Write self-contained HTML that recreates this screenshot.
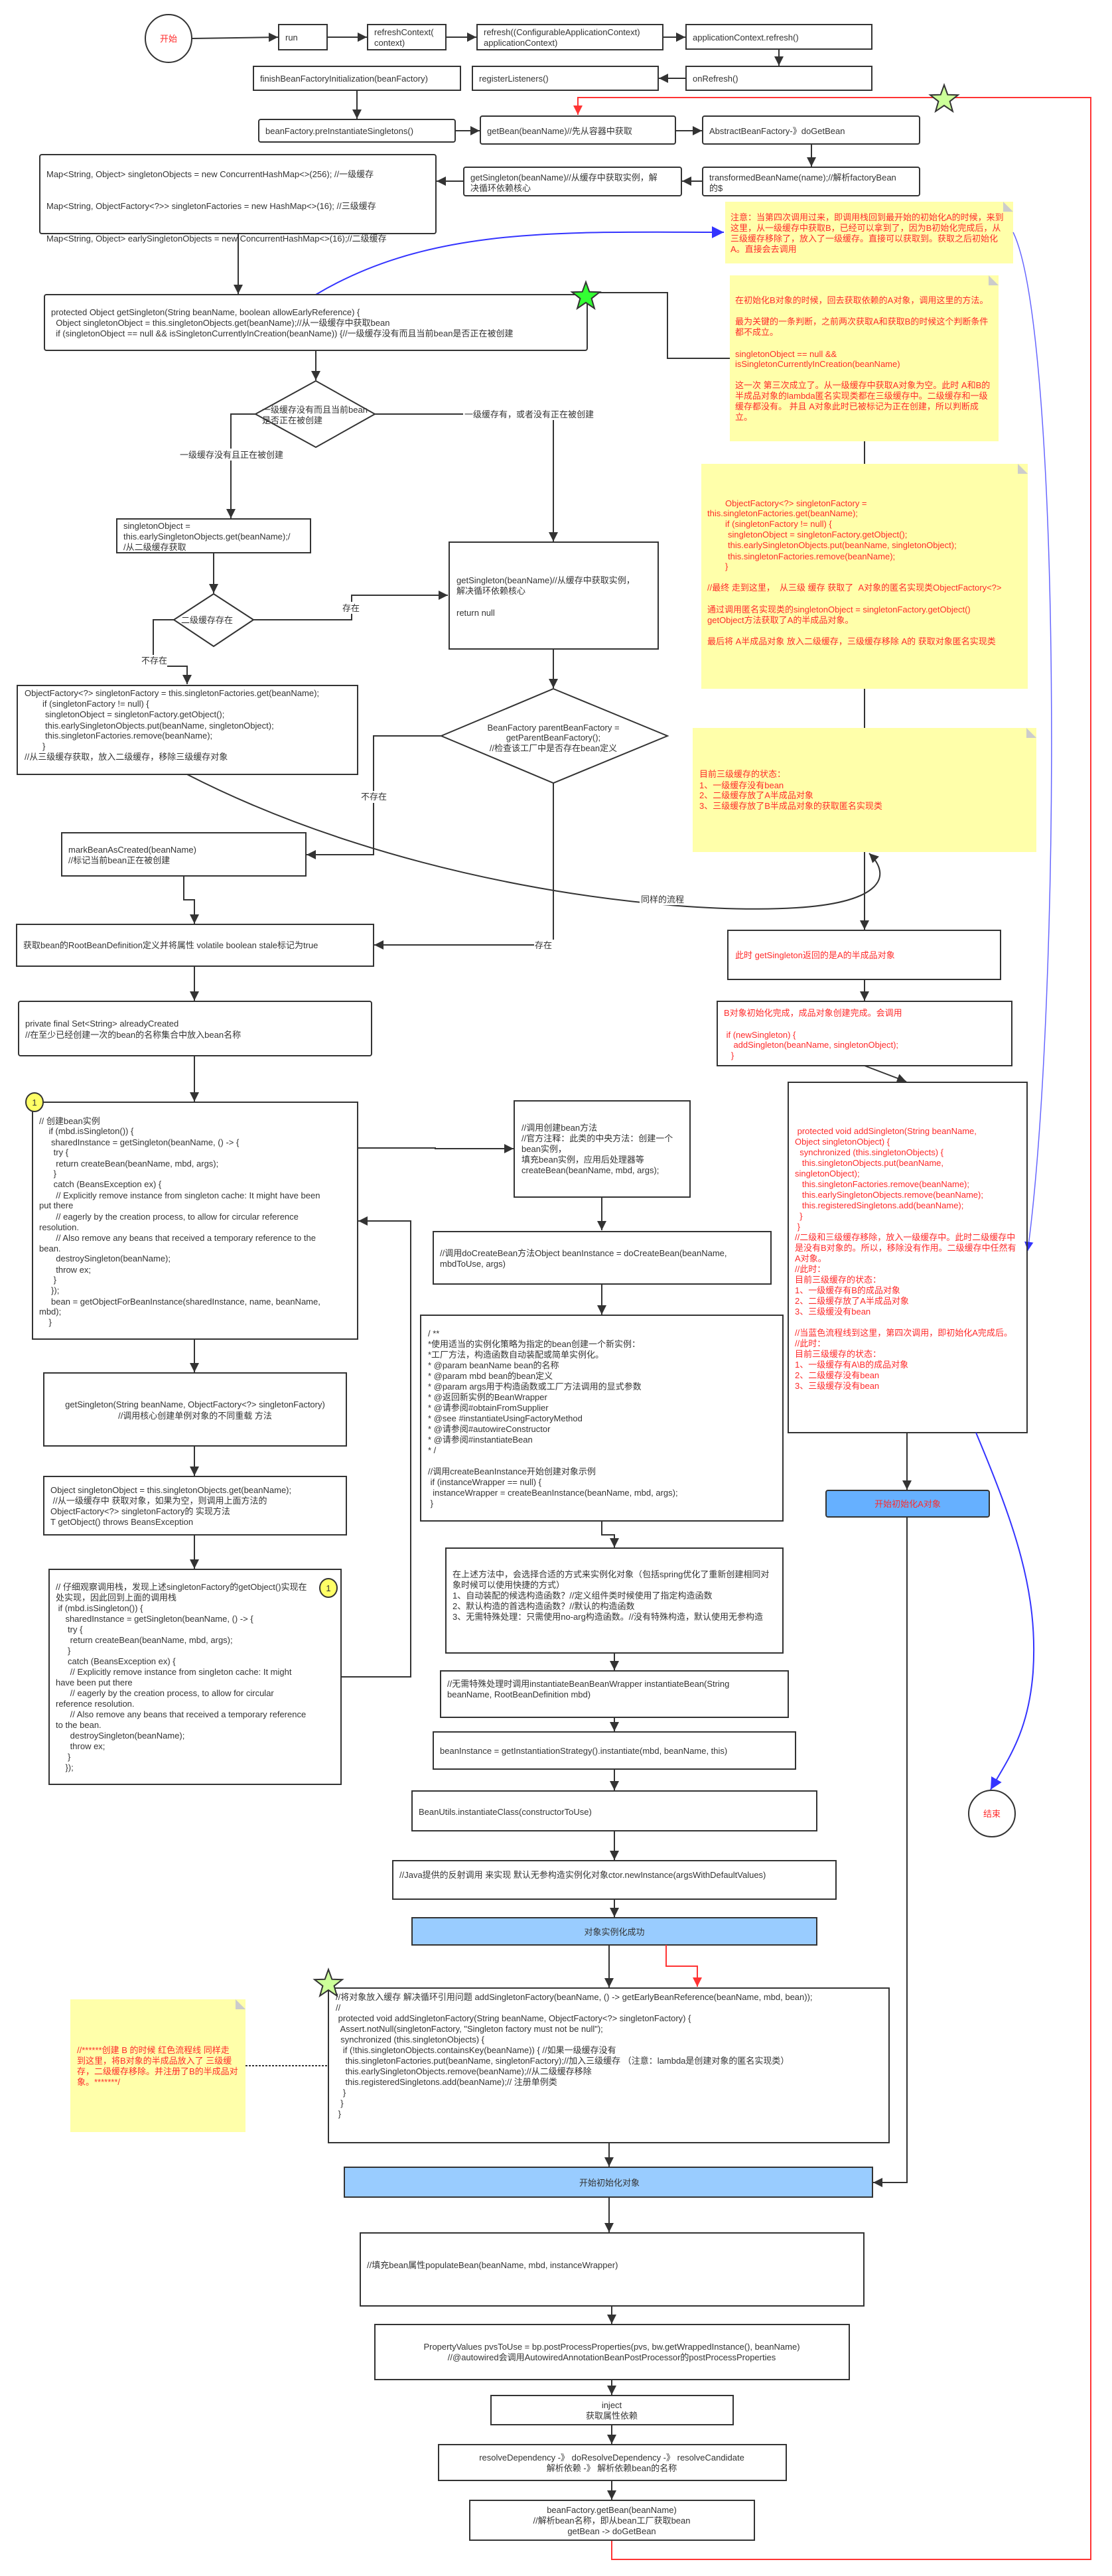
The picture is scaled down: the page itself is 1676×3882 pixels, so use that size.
<!DOCTYPE html>
<html><head><meta charset="utf-8"><style>
html,body{margin:0;padding:0;background:#fff;}
svg{display:block;}
text{font-family:"Liberation Sans","Noto Sans CJK SC",sans-serif;font-size:13px;fill:#333;white-space:pre;}
.r{fill:#ff2a2a;}
.b{fill:none;stroke:#333;stroke-width:2;}
.ln{fill:none;stroke:#333;stroke-width:2;}
.note{fill:#ffffaa;stroke:none;}
</style></head><body>
<svg width="1676" height="3882" viewBox="0 0 1676 3882" xmlns="http://www.w3.org/2000/svg" xml:space="preserve">
<defs>
<marker id="a" viewBox="0 0 10 10" refX="10" refY="5" markerWidth="7" markerHeight="7" orient="auto"><path d="M0,0L10,5L0,10z" fill="#333"/></marker>
<marker id="ar" viewBox="0 0 10 10" refX="10" refY="5" markerWidth="7" markerHeight="7" orient="auto"><path d="M0,0L10,5L0,10z" fill="#ff3333"/></marker>
<marker id="ab" viewBox="0 0 10 10" refX="10" refY="5" markerWidth="9" markerHeight="9" orient="auto"><path d="M0,0L10,5L0,10z" fill="#3333ff"/></marker>
<polygon id="star" points="0,-22 5.3,-7.3 20.9,-6.8 8.6,2.8 12.9,17.8 0,9 -12.9,17.8 -8.6,2.8 -20.9,-6.8 -5.3,-7.3" stroke="#333" stroke-width="2"/>
</defs>
<rect width="1676" height="3882" fill="#fff"/>

<!-- red loop line -->
<polyline points="922,3828 922,3857 1644,3857 1644,147 871,147 871,173" fill="none" stroke="#ff3333" stroke-width="2" marker-end="url(#ar)"/>

<!-- start -->
<ellipse cx="254" cy="58" rx="35" ry="36" class="b"/>
<text x="254" y="63" class="r" text-anchor="middle">开始</text>
<line x1="289" y1="58" x2="419" y2="56" class="ln" marker-end="url(#a)"/>
<rect x="420" y="37" width="73" height="38" class="b"/><text x="430" y="61">run</text>
<line x1="493" y1="56" x2="553" y2="56" class="ln" marker-end="url(#a)"/>
<rect x="554" y="37" width="118" height="38" class="b"/><text x="564" y="53">refreshContext(</text><text x="564" y="69">context)</text>
<line x1="672" y1="56" x2="718" y2="56" class="ln" marker-end="url(#a)"/>
<rect x="719" y="37" width="280" height="38" class="b"/><text x="729" y="53">refresh((ConfigurableApplicationContext)</text><text x="729" y="69">applicationContext)</text>
<line x1="999" y1="56" x2="1033" y2="56" class="ln" marker-end="url(#a)"/>
<rect x="1034" y="37" width="280" height="37" class="b"/><text x="1044" y="61">applicationContext.refresh()</text>
<line x1="1174" y1="74" x2="1174" y2="99" class="ln" marker-end="url(#a)"/>
<rect x="1034" y="100" width="280" height="36" class="b"/><text x="1044" y="123">onRefresh()</text>
<line x1="1034" y1="118" x2="993" y2="118" class="ln" marker-end="url(#a)"/>
<rect x="712" y="100" width="280" height="36" class="b"/><text x="722" y="123">registerListeners()</text>
<rect x="382" y="100" width="312" height="36" class="b"/><text x="392" y="123">finishBeanFactoryInitialization(beanFactory)</text>
<line x1="538" y1="136" x2="538" y2="179" class="ln" marker-end="url(#a)"/>
<rect x="390" y="180" width="296" height="34" rx="3" class="b"/><text x="400" y="202">beanFactory.preInstantiateSingletons()</text>
<line x1="686" y1="197" x2="723" y2="197" class="ln" marker-end="url(#a)"/>
<rect x="724" y="175" width="294" height="42" rx="3" class="b"/><text x="734" y="202">getBean(beanName)//先从容器中获取</text>
<line x1="1018" y1="197" x2="1058" y2="197" class="ln" marker-end="url(#a)"/>
<rect x="1059" y="175" width="327" height="42" rx="3" class="b"/><text x="1069" y="202">AbstractBeanFactory-》doGetBean</text>
<line x1="1223" y1="217" x2="1223" y2="251" class="ln" marker-end="url(#a)"/>
<rect x="1059" y="252" width="327" height="43" rx="3" class="b"/><text x="1069" y="272">transformedBeanName(name);//解析factoryBean</text><text x="1069" y="288">的$</text>
<line x1="1059" y1="273" x2="1028" y2="273" class="ln" marker-end="url(#a)"/>
<rect x="699" y="252" width="328" height="43" rx="3" class="b"/><text x="709" y="272">getSingleton(beanName)//从缓存中获取实例，解</text><text x="709" y="288">决循环依赖核心</text>
<line x1="699" y1="273" x2="658" y2="273" class="ln" marker-end="url(#a)"/>
<polygon transform="translate(1423,150) scale(1)" points="0,-22 5.3,-7.3 20.9,-6.8 8.6,2.8 12.9,17.8 0,9 -12.9,17.8 -8.6,2.8 -20.9,-6.8 -5.3,-7.3" fill="#ccff99" stroke="#333" stroke-width="2"/>

<!-- maps box -->
<rect x="60" y="233" width="597" height="119" rx="3" class="b"/>
<text x="70" y="267">Map&lt;String, Object&gt; singletonObjects = new ConcurrentHashMap&lt;&gt;(256); //一级缓存</text>
<text x="70" y="315">Map&lt;String, ObjectFactory&lt;?&gt;&gt; singletonFactories = new HashMap&lt;&gt;(16); //三级缓存</text>
<text x="70" y="364">Map&lt;String, Object&gt; earlySingletonObjects = new ConcurrentHashMap&lt;&gt;(16);//二级缓存</text>
<line x1="359" y1="352" x2="359" y2="443" class="ln" marker-end="url(#a)"/>

<!-- note1 -->
<rect x="1093" y="304" width="434" height="93" class="note"/>
<polygon points="1512,304 1527,319 1512,319" fill="#ccc"/>
<text class="r" x="1101"><tspan x="1101" y="332">注意：当第四次调用过来，即调用栈回到最开始的初始化A的时候，来到</tspan><tspan x="1101" y="348">这里，从一级缓存中获取B，已经可以拿到了，因为B初始化完成后，从</tspan><tspan x="1101" y="364">三级缓存移除了，放入了一级缓存。直接可以获取到。获取之后初始化</tspan><tspan x="1101" y="380">A。直接会去调用</tspan></text>
<path d="M476,444 C650,340 850,350 1091,350" fill="none" stroke="#3333ff" stroke-width="2" marker-end="url(#ab)"/>
<path d="M1527,350 C1600,500 1600,1500 1549,1885" fill="none" stroke="#6666ff" stroke-width="1.5" marker-end="url(#ab)"/>

<!-- big getSingleton -->
<rect x="67" y="444" width="818" height="84" rx="3" class="b"/>
<text x="77" y="475">protected Object getSingleton(String beanName, boolean allowEarlyReference) {</text>
<text x="77" y="491">  Object singletonObject = this.singletonObjects.get(beanName);//从一级缓存中获取bean</text>
<text x="77" y="507">  if (singletonObject == null &amp;&amp; isSingletonCurrentlyInCreation(beanName)) {//一级缓存没有而且当前bean是否正在被创建</text>
<polyline points="1100,540 1006,540 1006,441 885,441" class="ln"/>
<polygon transform="translate(883,447)" points="0,-22 5.3,-7.3 20.9,-6.8 8.6,2.8 12.9,17.8 0,9 -12.9,17.8 -8.6,2.8 -20.9,-6.8 -5.3,-7.3" fill="#33ff33" stroke="#333" stroke-width="2"/>

<!-- note2 -->
<rect x="1100" y="415" width="405" height="250" class="note"/>
<polygon points="1490,415 1505,430 1490,430" fill="#ccc"/>
<text class="r"><tspan x="1108" y="457">在初始化B对象的时候，回去获取依赖的A对象，调用这里的方法。</tspan><tspan x="1108" y="489">最为关键的一条判断，之前两次获取A和获取B的时候这个判断条件</tspan><tspan x="1108" y="505">都不成立。</tspan><tspan x="1108" y="538">singletonObject == null &amp;&amp;</tspan><tspan x="1108" y="553">isSingletonCurrentlyInCreation(beanName)</tspan><tspan x="1108" y="585">这一次 第三次成立了。从一级缓存中获取A对象为空。此时 A和B的</tspan><tspan x="1108" y="601">半成品对象的lambda匿名实现类都在三级缓存中。二级缓存和一级</tspan><tspan x="1108" y="617">缓存都没有。 并且 A对象此时已被标记为正在创建，所以判断成</tspan><tspan x="1108" y="633">立。</tspan></text>
<line x1="1303" y1="665" x2="1303" y2="699" class="ln"/>

<!-- diamond1 -->
<line x1="476" y1="528" x2="476" y2="573" class="ln" marker-end="url(#a)"/>
<polygon points="476,574 565,624 476,674 385,624" class="b" fill="#fff"/>
<text x="395" y="622">一级缓存没有而且当前bean</text><text x="395" y="638">是否正在被创建</text>
<polyline points="565,624 834,624 834,816" class="ln" marker-end="url(#a)"/>
<rect x="698" y="615" width="190" height="18" fill="#fff"/>
<text x="700" y="629">一级缓存有，或者没有正在被创建</text>
<polyline points="385,624 348,624 348,781" class="ln" marker-end="url(#a)"/>
<rect x="270" y="676" width="158" height="18" fill="#fff"/>
<text x="271" y="690">一级缓存没有且正在被创建</text>

<rect x="176" y="782" width="292" height="51" class="b"/>
<text x="186" y="797">singletonObject =</text><text x="186" y="813">this.earlySingletonObjects.get(beanName);/</text><text x="186" y="829">/从二级缓存获取</text>
<line x1="322" y1="833" x2="322" y2="894" class="ln" marker-end="url(#a)"/>
<polygon points="322,895 382,934 322,974 262,934" class="b" fill="#fff"/>
<text x="273" y="939">二级缓存存在</text>
<polyline points="382,934 530,934 530,897 675,897" class="ln" marker-end="url(#a)"/>
<rect x="515" y="907" width="30" height="18" fill="#fff"/><text x="516" y="921">存在</text>
<polyline points="262,934 231,934 231,1004 282,1004 282,1031" class="ln" marker-end="url(#a)"/>
<rect x="212" y="987" width="40" height="18" fill="#fff"/><text x="213" y="1000">不存在</text>

<rect x="26" y="1033" width="513" height="134" class="b"/>
<text><tspan x="37" y="1049">ObjectFactory&lt;?&gt; singletonFactory = this.singletonFactories.get(beanName);</tspan><tspan x="64" y="1065">if (singletonFactory != null) {</tspan><tspan x="68" y="1081">singletonObject = singletonFactory.getObject();</tspan><tspan x="68" y="1098">this.earlySingletonObjects.put(beanName, singletonObject);</tspan><tspan x="68" y="1113">this.singletonFactories.remove(beanName);</tspan><tspan x="64" y="1129">}</tspan><tspan x="37" y="1145">//从三级缓存获取，放入二级缓存，移除三级缓存对象</tspan></text>
<path d="M282,1167 C600,1330 1000,1380 1200,1368 C1330,1360 1345,1320 1310,1286" fill="none" stroke="#333" stroke-width="2" marker-end="url(#a)"/>
<rect x="964" y="1346" width="70" height="18" fill="#fff"/><text x="966" y="1360">同样的流程</text>

<!-- getSingleton box 2 -->
<rect x="677" y="817" width="315" height="161" class="b"/>
<text x="688" y="879">getSingleton(beanName)//从缓存中获取实例，</text><text x="688" y="895">解决循环依赖核心</text><text x="688" y="928">return null</text>
<line x1="834" y1="978" x2="834" y2="1037" class="ln" marker-end="url(#a)"/>
<polygon points="834,1038 1006,1109 834,1180 665,1109" class="b" fill="#fff"/>
<text x="834" y="1101" text-anchor="middle">BeanFactory parentBeanFactory =</text><text x="834" y="1116" text-anchor="middle">getParentBeanFactory();</text><text x="834" y="1132" text-anchor="middle">//检查该工厂中是否存在bean定义</text>
<polyline points="665,1109 563,1109 563,1288 462,1288" class="ln" marker-end="url(#a)"/>
<rect x="543" y="1192" width="40" height="18" fill="#fff"/><text x="544" y="1205">不存在</text>
<polyline points="834,1180 834,1424 564,1424" class="ln" marker-end="url(#a)"/>
<rect x="805" y="1416" width="30" height="18" fill="#fff"/><text x="806" y="1429">存在</text>

<!-- note3 -->
<rect x="1057" y="699" width="492" height="339" class="note"/>
<polygon points="1534,699 1549,714 1534,714" fill="#ccc"/>
<text class="r"><tspan x="1093" y="763">ObjectFactory&lt;?&gt; singletonFactory =</tspan><tspan x="1066" y="778">this.singletonFactories.get(beanName);</tspan><tspan x="1093" y="794">if (singletonFactory != null) {</tspan><tspan x="1097" y="810">singletonObject = singletonFactory.getObject();</tspan><tspan x="1097" y="826">this.earlySingletonObjects.put(beanName, singletonObject);</tspan><tspan x="1097" y="843">this.singletonFactories.remove(beanName);</tspan><tspan x="1093" y="858">}</tspan><tspan x="1066" y="890">//最终 走到这里，  从三级 缓存 获取了  A对象的匿名实现类ObjectFactory&lt;?&gt;</tspan><tspan x="1066" y="923">通过调用匿名实现类的singletonObject = singletonFactory.getObject()</tspan><tspan x="1066" y="939">getObject方法获取了A的半成品对象。</tspan><tspan x="1066" y="971">最后将 A半成品对象 放入二级缓存，三级缓存移除 A的 获取对象匿名实现类</tspan></text>
<line x1="1303" y1="1038" x2="1303" y2="1097" class="ln"/>
<!-- note4 -->
<rect x="1044" y="1097" width="518" height="187" class="note"/>
<polygon points="1547,1097 1562,1112 1547,1112" fill="#ccc"/>
<text class="r"><tspan x="1054" y="1171">目前三级缓存的状态：</tspan><tspan x="1054" y="1188">1、一级缓存没有bean</tspan><tspan x="1054" y="1203">2、二级缓存放了A半成品对象</tspan><tspan x="1054" y="1219">3、三级缓存放了B半成品对象的获取匿名实现类</tspan></text>
<line x1="1303" y1="1284" x2="1303" y2="1401" class="ln" marker-end="url(#a)"/>

<!-- markBean -->
<rect x="93" y="1255" width="368" height="65" class="b"/>
<text x="103" y="1285">markBeanAsCreated(beanName)</text><text x="103" y="1301">//标记当前bean正在被创建</text>
<polyline points="277,1320 277,1356 293,1356 293,1392" class="ln" marker-end="url(#a)"/>
<rect x="25" y="1393" width="538" height="63" class="b"/>
<text x="35" y="1429">获取bean的RootBeanDefinition定义并将属性 volatile boolean stale标记为true</text>
<line x1="293" y1="1456" x2="293" y2="1508" class="ln" marker-end="url(#a)"/>
<rect x="28" y="1509" width="532" height="82" rx="3" class="b"/>
<text x="38" y="1547">private final Set&lt;String&gt; alreadyCreated</text><text x="38" y="1564">//在至少已经创建一次的bean的名称集合中放入bean名称</text>
<line x1="293" y1="1591" x2="293" y2="1660" class="ln" marker-end="url(#a)"/>

<!-- box1 -->
<rect x="49" y="1661" width="490" height="357" class="b"/>
<ellipse cx="52" cy="1661" rx="13" ry="14" fill="#ffff66" stroke="#333" stroke-width="2"/><text x="52" y="1666" text-anchor="middle">1</text>
<text><tspan x="59" y="1694">// 创建bean实例</tspan><tspan x="59" y="1709">    if (mbd.isSingleton()) {</tspan><tspan x="59" y="1726">     sharedInstance = getSingleton(beanName, () -&gt; {</tspan><tspan x="59" y="1741">      try {</tspan><tspan x="59" y="1758">       return createBean(beanName, mbd, args);</tspan><tspan x="59" y="1773">      }</tspan><tspan x="59" y="1789">      catch (BeansException ex) {</tspan><tspan x="59" y="1806">       // Explicitly remove instance from singleton cache: It might have been</tspan><tspan x="59" y="1821">put there</tspan><tspan x="59" y="1838">       // eagerly by the creation process, to allow for circular reference</tspan><tspan x="59" y="1854">resolution.</tspan><tspan x="59" y="1870">       // Also remove any beans that received a temporary reference to the</tspan><tspan x="59" y="1886">bean.</tspan><tspan x="59" y="1901">       destroySingleton(beanName);</tspan><tspan x="59" y="1918">       throw ex;</tspan><tspan x="59" y="1933">      }</tspan><tspan x="59" y="1949">     });</tspan><tspan x="59" y="1966">     bean = getObjectForBeanInstance(sharedInstance, name, beanName,</tspan><tspan x="59" y="1981">mbd);</tspan><tspan x="59" y="1997">    }</tspan></text>
<polyline points="539,1730 656,1730 656,1731 774,1731" class="ln" marker-end="url(#a)"/>
<polyline points="514,2527 619,2527 619,1840 540,1840" class="ln" marker-end="url(#a)"/>
<line x1="293" y1="2018" x2="293" y2="2068" class="ln" marker-end="url(#a)"/>
<rect x="66" y="2069" width="456" height="110" class="b"/>
<text x="294" y="2121" text-anchor="middle">getSingleton(String beanName, ObjectFactory&lt;?&gt; singletonFactory)</text><text x="294" y="2138" text-anchor="middle">//调用核心创建单例对象的不同重载 方法</text>
<line x1="293" y1="2179" x2="293" y2="2224" class="ln" marker-end="url(#a)"/>
<rect x="66" y="2225" width="456" height="88" class="b"/>
<text><tspan x="76" y="2250">Object singletonObject = this.singletonObjects.get(beanName);</tspan><tspan x="76" y="2266"> //从一级缓存中 获取对象，如果为空，则调用上面方法的</tspan><tspan x="76" y="2282">ObjectFactory&lt;?&gt; singletonFactory的 实现方法</tspan><tspan x="76" y="2298">T getObject() throws BeansException</tspan></text>
<line x1="293" y1="2313" x2="293" y2="2364" class="ln" marker-end="url(#a)"/>
<rect x="74" y="2365" width="440" height="324" class="b"/>
<ellipse cx="495" cy="2393" rx="13" ry="14" fill="#ffff66" stroke="#333" stroke-width="2"/><text x="495" y="2398" text-anchor="middle">1</text>
<text><tspan x="84" y="2396">// 仔细观察调用栈，发现上述singletonFactory的getObject()实现在</tspan><tspan x="84" y="2412">处实现，因此回到上面的调用栈</tspan><tspan x="84" y="2428"> if (mbd.isSingleton()) {</tspan><tspan x="84" y="2444">    sharedInstance = getSingleton(beanName, () -&gt; {</tspan><tspan x="84" y="2460">     try {</tspan><tspan x="84" y="2476">      return createBean(beanName, mbd, args);</tspan><tspan x="84" y="2492">     }</tspan><tspan x="84" y="2508">     catch (BeansException ex) {</tspan><tspan x="84" y="2524">      // Explicitly remove instance from singleton cache: It might</tspan><tspan x="84" y="2540">have been put there</tspan><tspan x="84" y="2556">      // eagerly by the creation process, to allow for circular</tspan><tspan x="84" y="2572">reference resolution.</tspan><tspan x="84" y="2588">      // Also remove any beans that received a temporary reference</tspan><tspan x="84" y="2604">to the bean.</tspan><tspan x="84" y="2620">      destroySingleton(beanName);</tspan><tspan x="84" y="2636">      throw ex;</tspan><tspan x="84" y="2652">     }</tspan><tspan x="84" y="2668">    });</tspan></text>

<!-- createBean column -->
<rect x="775" y="1659" width="265" height="145" class="b"/>
<text><tspan x="786" y="1704">//调用创建bean方法</tspan><tspan x="786" y="1720">//官方注释：此类的中央方法：创建一个</tspan><tspan x="786" y="1736">bean实例，</tspan><tspan x="786" y="1752">填充bean实例，应用后处理器等</tspan><tspan x="786" y="1768">createBean(beanName, mbd, args);</tspan></text>
<line x1="907" y1="1804" x2="907" y2="1854" class="ln" marker-end="url(#a)"/>
<rect x="653" y="1856" width="509" height="79" class="b"/>
<text x="663" y="1893">//调用doCreateBean方法Object beanInstance = doCreateBean(beanName,</text><text x="663" y="1909">mbdToUse, args)</text>
<line x1="907" y1="1935" x2="907" y2="1981" class="ln" marker-end="url(#a)"/>
<rect x="634" y="1982" width="546" height="310" class="b"/>
<text><tspan x="645" y="2014">/ **</tspan><tspan x="645" y="2030">*使用适当的实例化策略为指定的bean创建一个新实例：</tspan><tspan x="645" y="2046">*工厂方法，构造函数自动装配或简单实例化。</tspan><tspan x="645" y="2062">* @param beanName bean的名称</tspan><tspan x="645" y="2078">* @param mbd bean的bean定义</tspan><tspan x="645" y="2094">* @param args用于构造函数或工厂方法调用的显式参数</tspan><tspan x="645" y="2110">* @返回新实例的BeanWrapper</tspan><tspan x="645" y="2126">* @请参阅#obtainFromSupplier</tspan><tspan x="645" y="2142">* @see #instantiateUsingFactoryMethod</tspan><tspan x="645" y="2158">* @请参阅#autowireConstructor</tspan><tspan x="645" y="2174">* @请参阅#instantiateBean</tspan><tspan x="645" y="2190">* /</tspan><tspan x="645" y="2222">//调用createBeanInstance开始创建对象示例</tspan><tspan x="645" y="2238"> if (instanceWrapper == null) {</tspan><tspan x="645" y="2254">  instanceWrapper = createBeanInstance(beanName, mbd, args);</tspan><tspan x="645" y="2270"> }</tspan></text>
<polyline points="907,2292 907,2313 926,2313 926,2332" class="ln" marker-end="url(#a)"/>
<rect x="672" y="2333" width="508" height="158" class="b"/>
<text><tspan x="682" y="2377">在上述方法中，会选择合适的方式来实例化对象（包括spring优化了重新创建相同对</tspan><tspan x="682" y="2393">象时候可以使用快捷的方式）</tspan><tspan x="682" y="2409">1、自动装配的候选构造函数？//定义组件类时候使用了指定构造函数</tspan><tspan x="682" y="2425">2、默认构造的首选构造函数？//默认的构造函数</tspan><tspan x="682" y="2441">3、无需特殊处理：只需使用no-arg构造函数。//没有特殊构造，默认使用无参构造</tspan></text>
<line x1="926" y1="2491" x2="926" y2="2517" class="ln" marker-end="url(#a)"/>
<rect x="664" y="2518" width="524" height="70" class="b"/>
<text x="674" y="2542">//无需特殊处理时调用instantiateBeanBeanWrapper instantiateBean(String</text><text x="674" y="2558">beanName, RootBeanDefinition mbd)</text>
<line x1="926" y1="2588" x2="926" y2="2609" class="ln" marker-end="url(#a)"/>
<rect x="653" y="2610" width="546" height="56" class="b"/>
<text x="663" y="2643">beanInstance = getInstantiationStrategy().instantiate(mbd, beanName, this)</text>
<line x1="926" y1="2666" x2="926" y2="2698" class="ln" marker-end="url(#a)"/>
<rect x="621" y="2699" width="610" height="60" class="b"/>
<text x="631" y="2735">BeanUtils.instantiateClass(constructorToUse)</text>
<line x1="926" y1="2759" x2="926" y2="2803" class="ln" marker-end="url(#a)"/>
<rect x="592" y="2804" width="668" height="58" class="b"/>
<text x="602" y="2830">//Java提供的反射调用 来实现 默认无参构造实例化对象ctor.newInstance(argsWithDefaultValues)</text>
<line x1="926" y1="2862" x2="926" y2="2889" class="ln" marker-end="url(#a)"/>
<rect x="621" y="2890" width="610" height="41" fill="#99ccff" stroke="#333" stroke-width="2"/>
<text x="926" y="2916" text-anchor="middle">对象实例化成功</text>
<line x1="918" y1="2931" x2="918" y2="2995" class="ln" marker-end="url(#a)"/>
<polyline points="1004,2931 1004,2963 1051,2963 1051,2994" fill="none" stroke="#ff3333" stroke-width="2" marker-end="url(#ar)"/>

<!-- addSingletonFactory -->
<rect x="495" y="2996" width="845" height="233" class="b"/>
<text><tspan x="506" y="3014">//将对象放入缓存 解决循环引用问题 addSingletonFactory(beanName, () -&gt; getEarlyBeanReference(beanName, mbd, bean));</tspan><tspan x="506" y="3030">//</tspan><tspan x="506" y="3046"> protected void addSingletonFactory(String beanName, ObjectFactory&lt;?&gt; singletonFactory) {</tspan><tspan x="506" y="3062">  Assert.notNull(singletonFactory, "Singleton factory must not be null");</tspan><tspan x="506" y="3078">  synchronized (this.singletonObjects) {</tspan><tspan x="506" y="3094">   if (!this.singletonObjects.containsKey(beanName)) { //如果一级缓存没有</tspan><tspan x="506" y="3110">    this.singletonFactories.put(beanName, singletonFactory);//加入三级缓存 （注意：lambda是创建对象的匿名实现类）</tspan><tspan x="506" y="3126">    this.earlySingletonObjects.remove(beanName);//从二级缓存移除</tspan><tspan x="506" y="3142">    this.registeredSingletons.add(beanName);// 注册单例类</tspan><tspan x="506" y="3158">   }</tspan><tspan x="506" y="3174">  }</tspan><tspan x="506" y="3190"> }</tspan></text>
<polygon transform="translate(495,2990)" points="0,-22 5.3,-7.3 20.9,-6.8 8.6,2.8 12.9,17.8 0,9 -12.9,17.8 -8.6,2.8 -20.9,-6.8 -5.3,-7.3" fill="#ccff99" stroke="#333" stroke-width="2"/>
<rect x="106" y="3013" width="264" height="200" class="note"/>
<polygon points="355,3013 370,3028 355,3028" fill="#ccc"/>
<text class="r"><tspan x="116" y="3094">//******创建 B 的时候 红色流程线 同样走</tspan><tspan x="116" y="3110">到这里，将B对象的半成品放入了 三级缓</tspan><tspan x="116" y="3126">存，二级缓存移除。并注册了B的半成品对</tspan><tspan x="116" y="3142">象。*******/</tspan></text>
<line x1="370" y1="3113" x2="495" y2="3113" stroke="#333" stroke-width="2" stroke-dasharray="3,2"/>
<line x1="918" y1="3229" x2="918" y2="3265" class="ln" marker-end="url(#a)"/>

<rect x="519" y="3266" width="796" height="45" fill="#99ccff" stroke="#333" stroke-width="2"/>
<text x="873" y="3294">开始初始化对象</text>
<line x1="918" y1="3311" x2="918" y2="3364" class="ln" marker-end="url(#a)"/>
<rect x="543" y="3365" width="759" height="110" class="b"/>
<text x="553" y="3418">//填充bean属性populateBean(beanName, mbd, instanceWrapper)</text>
<line x1="922" y1="3475" x2="922" y2="3502" class="ln" marker-end="url(#a)"/>
<rect x="565" y="3503" width="715" height="83" class="b"/>
<text x="922" y="3541" text-anchor="middle">PropertyValues pvsToUse = bp.postProcessProperties(pvs, bw.getWrappedInstance(), beanName)</text><text x="922" y="3557" text-anchor="middle">//@autowired会调用AutowiredAnnotationBeanPostProcessor的postProcessProperties</text>
<line x1="922" y1="3586" x2="922" y2="3609" class="ln" marker-end="url(#a)"/>
<rect x="740" y="3610" width="365" height="44" class="b"/>
<text x="922" y="3629" text-anchor="middle">inject</text><text x="922" y="3645" text-anchor="middle">获取属性依赖</text>
<line x1="922" y1="3654" x2="922" y2="3683" class="ln" marker-end="url(#a)"/>
<rect x="661" y="3684" width="524" height="54" class="b"/>
<text x="922" y="3708" text-anchor="middle">resolveDependency -》 doResolveDependency -》 resolveCandidate</text><text x="922" y="3724" text-anchor="middle">解析依赖 -》 解析依赖bean的名称</text>
<line x1="922" y1="3738" x2="922" y2="3767" class="ln" marker-end="url(#a)"/>
<rect x="708" y="3768" width="429" height="60" class="b"/>
<text x="922" y="3787" text-anchor="middle">beanFactory.getBean(beanName)</text><text x="922" y="3803" text-anchor="middle">//解析bean名称，即从bean工厂获取bean</text><text x="922" y="3819" text-anchor="middle">getBean -&gt; doGetBean</text>

<!-- right column -->
<rect x="1097" y="1402" width="411" height="74" class="b"/>
<text x="1108" y="1444" class="r">此时 getSingleton返回的是A的半成品对象</text>
<line x1="1303" y1="1476" x2="1303" y2="1508" class="ln" marker-end="url(#a)"/>
<rect x="1081" y="1509" width="444" height="97" class="b"/>
<text class="r"><tspan x="1091" y="1531">B对象初始化完成，成品对象创建完成。会调用</tspan><tspan x="1091" y="1564"> if (newSingleton) {</tspan><tspan x="1091" y="1579">    addSingleton(beanName, singletonObject);</tspan><tspan x="1091" y="1595">   }</tspan></text>
<line x1="1303" y1="1606" x2="1366" y2="1630" class="ln" marker-end="url(#a)"/>
<rect x="1188" y="1631" width="360" height="528" class="b"/>
<text class="r"><tspan x="1198" y="1709"> protected void addSingleton(String beanName,</tspan><tspan x="1198" y="1725">Object singletonObject) {</tspan><tspan x="1198" y="1741">  synchronized (this.singletonObjects) {</tspan><tspan x="1198" y="1757">   this.singletonObjects.put(beanName,</tspan><tspan x="1198" y="1773">singletonObject);</tspan><tspan x="1198" y="1789">   this.singletonFactories.remove(beanName);</tspan><tspan x="1198" y="1805">   this.earlySingletonObjects.remove(beanName);</tspan><tspan x="1198" y="1821">   this.registeredSingletons.add(beanName);</tspan><tspan x="1198" y="1837">  }</tspan><tspan x="1198" y="1853"> }</tspan><tspan x="1198" y="1869">//二级和三级缓存移除，放入一级缓存中。此时二级缓存中</tspan><tspan x="1198" y="1885">是没有B对象的。所以，移除没有作用。二级缓存中任然有</tspan><tspan x="1198" y="1901">A对象。</tspan><tspan x="1198" y="1917">//此时：</tspan><tspan x="1198" y="1933">目前三级缓存的状态：</tspan><tspan x="1198" y="1949">1、一级缓存有B的成品对象</tspan><tspan x="1198" y="1965">2、二级缓存放了A半成品对象</tspan><tspan x="1198" y="1981">3、三级缓没有bean</tspan><tspan x="1198" y="2013">//当蓝色流程线到这里，第四次调用，即初始化A完成后。</tspan><tspan x="1198" y="2029">//此时：</tspan><tspan x="1198" y="2045">目前三级缓存的状态：</tspan><tspan x="1198" y="2061">1、一级缓存有A\B的成品对象</tspan><tspan x="1198" y="2077">2、二级缓存没有bean</tspan><tspan x="1198" y="2093">3、三级缓存没有bean</tspan></text>
<line x1="1367" y1="2159" x2="1367" y2="2245" class="ln" marker-end="url(#a)"/>
<rect x="1245" y="2246" width="246" height="40" rx="3" fill="#66b0ff" stroke="#333" stroke-width="2"/>
<text x="1368" y="2271" class="r" text-anchor="middle">开始初始化A对象</text>
<polyline points="1367,2286 1367,3289 1316,3289" class="ln" marker-end="url(#a)"/>
<path d="M1471,2159 C1530,2300 1565,2400 1557,2520 C1550,2610 1520,2650 1493,2697" fill="none" stroke="#3333ff" stroke-width="2" marker-end="url(#ab)"/>
<ellipse cx="1495" cy="2733" rx="35" ry="35" class="b"/>
<text x="1495" y="2738" class="r" text-anchor="middle">结束</text>
</svg>
</body></html>
